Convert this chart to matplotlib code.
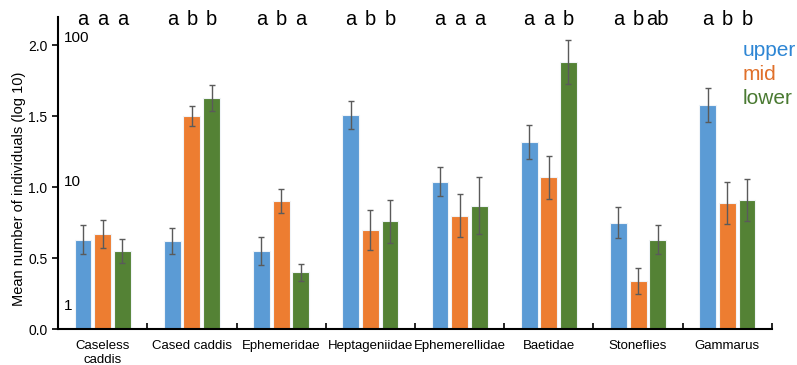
import numpy as np
import matplotlib
matplotlib.use("Agg")
import matplotlib.pyplot as plt

plt.rcParams["font.family"] = ["Liberation Sans", "DejaVu Sans"]

taxa = ["Caseless\ncaddis", "Cased caddis", "Ephemeridae", "Heptageniidae",
        "Ephemerellidae", "Baetidae", "Stoneflies", "Gammarus"]
reaches = ["upper", "mid", "lower"]

upper = [0.63, 0.62, 0.55, 1.51, 1.04, 1.32, 0.75, 1.58]
mid = [0.67, 1.50, 0.90, 0.70, 0.80, 1.07, 0.34, 0.89]
lower = [0.55, 1.63, 0.40, 0.76, 0.87, 1.88, 0.63, 0.91]

upper_se = [0.10, 0.09, 0.10, 0.10, 0.10, 0.12, 0.11, 0.12]
mid_se = [0.10, 0.07, 0.085, 0.14, 0.15, 0.15, 0.09, 0.15]
lower_se = [0.085, 0.09, 0.06, 0.15, 0.20, 0.155, 0.10, 0.15]

# significance letters per taxon (upper, mid, lower)
letters = [["a", "a", "a"], ["a", "b", "b"], ["a", "b", "a"], ["a", "b", "b"],
           ["a", "a", "a"], ["a", "a", "b"], ["a", "b", "ab"], ["a", "b", "b"]]

# back-transformed counts marked beside the log axis
count_marks = [100, 10, 1]
count_pos = [2.0, 0.99, 0.11]

colors = ["#5B9BD5", "#ED7D31", "#548235"]
text_colors = ["#2E86D4", "#E0702A", "#4A7A32"]

fig = plt.figure(figsize=(7.97, 3.65), dpi=100)
ax = fig.add_axes([0.0728, 0.0986, 0.8958, 0.8548])

x = np.arange(len(taxa)) + 0.5
w = 0.19
step = 0.22
series = [upper, mid, lower]
errs = [upper_se, mid_se, lower_se]
for i, (vals, se) in enumerate(zip(series, errs)):
    xi = x + (i - 1) * step
    ax.bar(xi, vals, width=w, color=colors[i], edgecolor="#f0f4f8",
           linewidth=0.8, zorder=2)
    ax.errorbar(xi, vals, yerr=se, fmt="none", ecolor="#5a5a5a",
                elinewidth=1.0, capsize=2.5, capthick=1.0, zorder=3)
    for j, lab in enumerate(letters):
        ax.text(xi[j], 2.18, lab[i], ha="center", va="center",
                fontsize=14.5, clip_on=False)

for val, yy in zip(count_marks, count_pos):
    ax.text(0.06, yy, str(val), ha="left", va="bottom", fontsize=11)

for k, (name, c) in enumerate(zip(reaches, text_colors)):
    ax.text(0.932, 0.863 - k * 0.067, name, transform=fig.transFigure,
            color=c, fontsize=15, ha="left", va="center")

ax.set_xlim(0, len(taxa))
ax.set_ylim(0, 2.2)
ax.set_yticks(np.arange(0, 2.01, 0.5))
ax.set_yticklabels([f"{v:.1f}" for v in np.arange(0, 2.01, 0.5)], fontsize=10)
ax.set_xticks(np.arange(0, len(taxa) + 1))
ax.set_xticklabels([])
ax.set_xticks(x, minor=True)
ax.set_xticklabels(taxa, minor=True, fontsize=9.5)
ax.tick_params(axis="x", which="major", direction="in", length=4, width=1.2)
ax.tick_params(axis="x", which="minor", length=0, pad=8)
ax.tick_params(axis="y", direction="out", length=4, width=1.2)
ax.set_ylabel("Mean number of individuals (log 10)", fontsize=10.5)
ax.yaxis.set_label_coords(-0.045, 0.45)

for s in ["top", "right"]:
    ax.spines[s].set_visible(False)
for s in ["left", "bottom"]:
    ax.spines[s].set_linewidth(1.5)

fig.savefig("out.png", dpi=100)
